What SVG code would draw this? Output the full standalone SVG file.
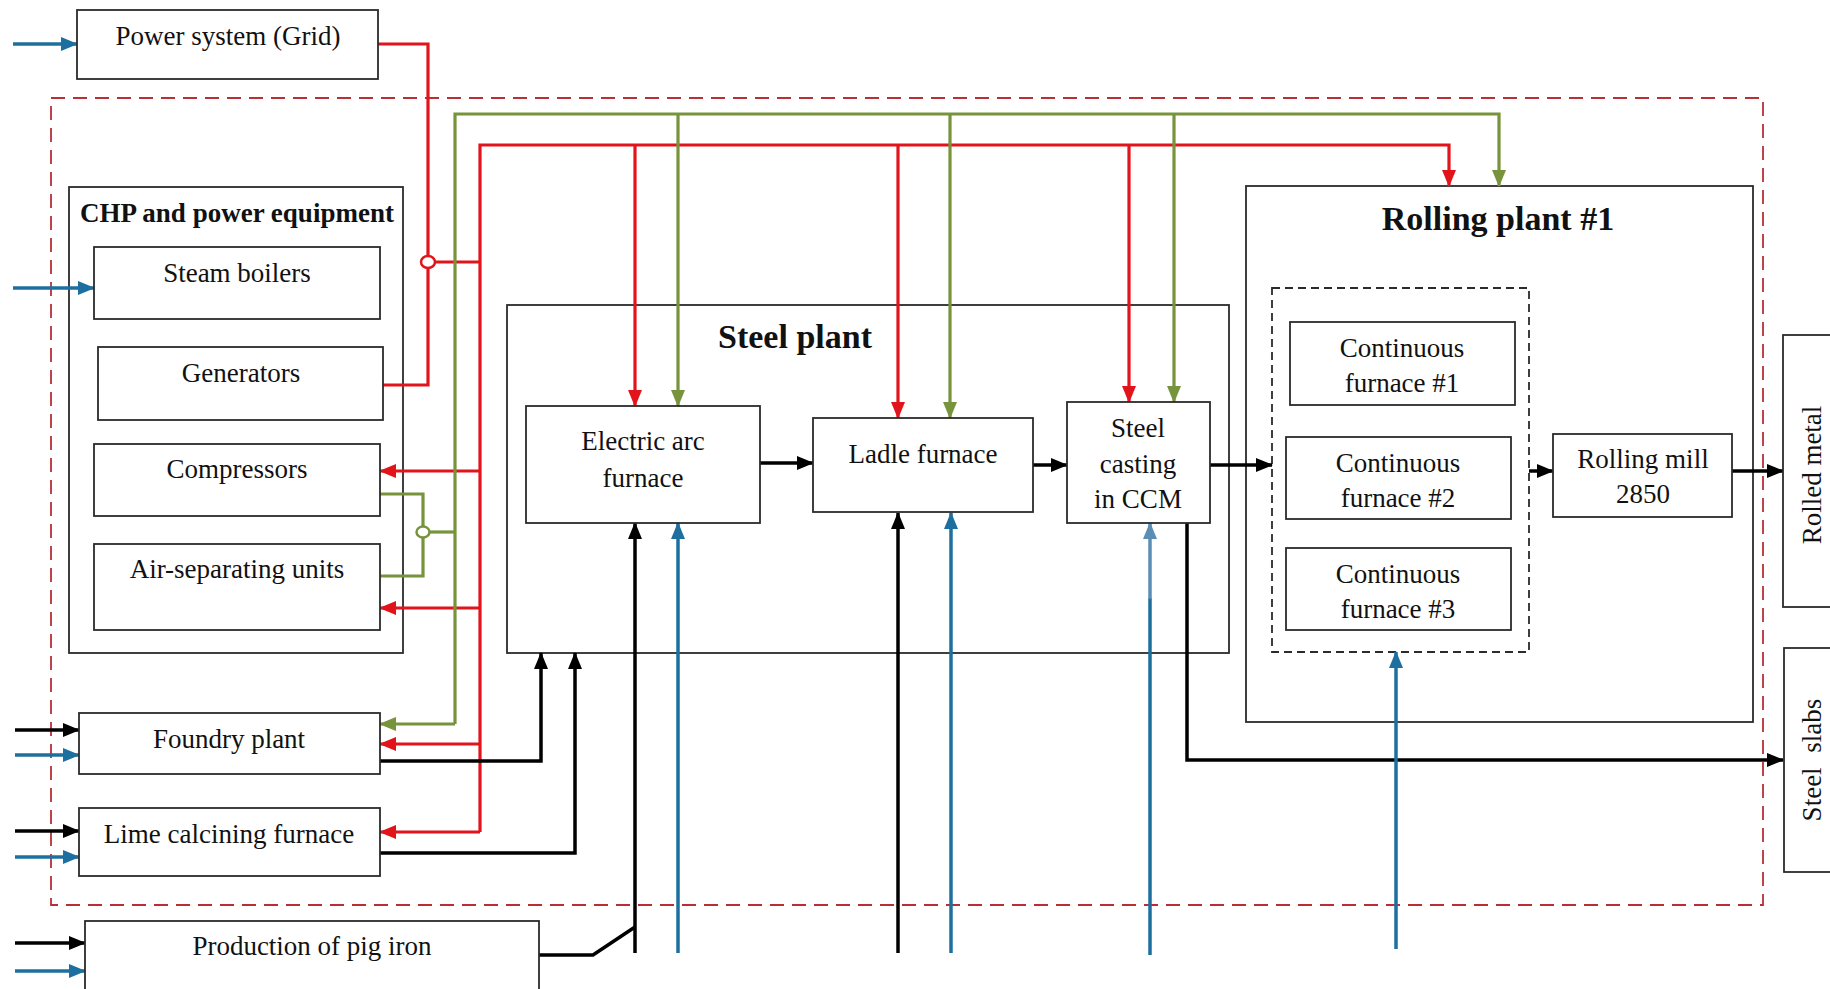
<svg xmlns="http://www.w3.org/2000/svg" width="1830" height="989" viewBox="0 0 1830 989">
<style>
  .box{fill:#fff;stroke:#2b2b2b;stroke-width:1.8}
  .cont{fill:none;stroke:#2b2b2b;stroke-width:1.8}
  .t{font-family:"Liberation Serif","Times New Roman",serif;font-size:27px;fill:#111;text-anchor:middle}
  .tb{font-family:"Liberation Serif","Times New Roman",serif;font-weight:bold;fill:#111;text-anchor:middle}
  .r{fill:none;stroke:#e2141b;stroke-width:3.2}
  .g{fill:none;stroke:#77933c;stroke-width:3.2}
  .b{fill:none;stroke:#1d6f9f;stroke-width:3.5}
  .k{fill:none;stroke:#000;stroke-width:3.5}
</style>
<defs>
  <marker id="aR" markerUnits="userSpaceOnUse" markerWidth="17" markerHeight="14" refX="16" refY="7" orient="auto"><path d="M0,0 L17,7 L0,14 z" fill="#e2141b"/></marker>
  <marker id="aG" markerUnits="userSpaceOnUse" markerWidth="17" markerHeight="14" refX="16" refY="7" orient="auto"><path d="M0,0 L17,7 L0,14 z" fill="#77933c"/></marker>
  <marker id="aB" markerUnits="userSpaceOnUse" markerWidth="17" markerHeight="14" refX="16" refY="7" orient="auto"><path d="M0,0 L17,7 L0,14 z" fill="#1d6f9f"/></marker>
  <marker id="aBl" markerUnits="userSpaceOnUse" markerWidth="17" markerHeight="14" refX="16" refY="7" orient="auto"><path d="M0,0 L17,7 L0,14 z" fill="#5b8db5"/></marker>
  <marker id="aK" markerUnits="userSpaceOnUse" markerWidth="17" markerHeight="14" refX="16" refY="7" orient="auto"><path d="M0,0 L17,7 L0,14 z" fill="#000"/></marker>
</defs>

<!-- outer dashed boundary -->
<rect id="boundary" x="51" y="98" width="1712" height="807" fill="none" stroke="#b83035" stroke-width="1.8" stroke-dasharray="14,8"/>

<!-- containers -->
<g id="chp">
  <rect class="cont" x="69" y="187" width="334" height="466"/>
  <text class="tb" x="237" y="222" font-size="27">CHP and power equipment</text>
</g>
<g id="steel-plant">
  <rect class="cont" x="507" y="305" width="722" height="348"/>
  <text class="tb" x="795" y="348" font-size="34">Steel plant</text>
</g>
<g id="rolling-plant">
  <rect class="cont" x="1246" y="186" width="507" height="536"/>
  <text class="tb" x="1498" y="230" font-size="34">Rolling plant #1</text>
</g>
<g id="furnace-group">
  <rect x="1272" y="288" width="257" height="364" fill="none" stroke="#2b2b2b" stroke-width="1.8" stroke-dasharray="8,5"/>
</g>

<!-- connectors -->
<g id="connectors">
  <path class="b" d="M13,44 H77" marker-end="url(#aB)"/>
  <path class="b" d="M13,288 H94" marker-end="url(#aB)"/>
  <path class="k" d="M15,730 H79" marker-end="url(#aK)"/>
  <path class="b" d="M15,755 H79" marker-end="url(#aB)"/>
  <path class="k" d="M15,831 H79" marker-end="url(#aK)"/>
  <path class="b" d="M15,857 H79" marker-end="url(#aB)"/>
  <path class="k" d="M15,943 H85" marker-end="url(#aK)"/>
  <path class="b" d="M15,971 H85" marker-end="url(#aB)"/>

  <path class="r" d="M378,44 H428 V255"/>
  <path class="r" d="M428,269 V385 H383"/>
  <ellipse cx="428" cy="262" rx="7" ry="6" fill="#fff" stroke="#e2141b" stroke-width="2.5"/>
  <path class="r" d="M435,262 H480"/>

  <path class="r" d="M480,832 V145 H1449 V186" marker-end="url(#aR)"/>
  <path class="r" d="M480,471 H380" marker-end="url(#aR)"/>
  <path class="r" d="M480,608 H380" marker-end="url(#aR)"/>
  <path class="r" d="M480,744 H380" marker-end="url(#aR)"/>
  <path class="r" d="M480,832 H380" marker-end="url(#aR)"/>
  <path class="r" d="M635,145 V406" marker-end="url(#aR)"/>
  <path class="r" d="M898,145 V418" marker-end="url(#aR)"/>
  <path class="r" d="M1129,145 V402" marker-end="url(#aR)"/>

  <path class="g" d="M455,724 V114 H1499 V186" marker-end="url(#aG)"/>
  <path class="g" d="M455,724 H380" marker-end="url(#aG)"/>
  <path class="g" d="M678,114 V406" marker-end="url(#aG)"/>
  <path class="g" d="M950,114 V418" marker-end="url(#aG)"/>
  <path class="g" d="M1174,114 V402" marker-end="url(#aG)"/>
  <path class="g" d="M380,494 H423 V526"/>
  <path class="g" d="M423,538 V576 H380"/>
  <ellipse cx="423" cy="532" rx="6.5" ry="5.5" fill="#fff" stroke="#77933c" stroke-width="2.5"/>
  <path class="g" d="M430,532 H455"/>

  <path class="k" d="M380,761 H541 V653" marker-end="url(#aK)"/>
  <path class="k" d="M380,853 H575 V653" marker-end="url(#aK)"/>
  <path class="k" d="M539,955 H593 L635,927"/>
  <path class="k" d="M635,953 V523" marker-end="url(#aK)"/>
  <path class="b" d="M678,953 V523" marker-end="url(#aB)"/>
  <path class="k" d="M898,953 V513" marker-end="url(#aK)"/>
  <path class="b" d="M951,953 V513" marker-end="url(#aB)"/>
  <path class="b" d="M1150,955 V598"/>
  <path d="M1150,599 V523" fill="none" stroke="#5b8db5" stroke-width="3.5" marker-end="url(#aBl)"/>

  <path class="k" d="M760,463 H813" marker-end="url(#aK)"/>
  <path class="k" d="M1033,465 H1067" marker-end="url(#aK)"/>
  <path class="k" d="M1210,465 H1272" marker-end="url(#aK)"/>
  <path class="k" d="M1529,471 H1553" marker-end="url(#aK)"/>
  <path class="k" d="M1732,471 H1783" marker-end="url(#aK)"/>
  <path class="k" d="M1187,523 V760 H1783" marker-end="url(#aK)"/>
  <path class="b" d="M1396,949 V652" marker-end="url(#aB)"/>
</g>

<!-- nodes -->
<g id="power-system">
  <rect class="box" x="77" y="10" width="301" height="69"/>
  <text class="t" x="228" y="45">Power system (Grid)</text>
</g>
<g id="steam-boilers">
  <rect class="box" x="94" y="247" width="286" height="72"/>
  <text class="t" x="237" y="282">Steam boilers</text>
</g>
<g id="generators">
  <rect class="box" x="98" y="347" width="285" height="73"/>
  <text class="t" x="241" y="382">Generators</text>
</g>
<g id="compressors">
  <rect class="box" x="94" y="444" width="286" height="72"/>
  <text class="t" x="237" y="478">Compressors</text>
</g>
<g id="air-separating-units">
  <rect class="box" x="94" y="544" width="286" height="86"/>
  <text class="t" x="237" y="578">Air-separating units</text>
</g>
<g id="foundry-plant">
  <rect class="box" x="79" y="713" width="301" height="61"/>
  <text class="t" x="229" y="748">Foundry plant</text>
</g>
<g id="lime-calcining-furnace">
  <rect class="box" x="79" y="808" width="301" height="68"/>
  <text class="t" x="229" y="843">Lime calcining furnace</text>
</g>
<g id="pig-iron">
  <rect class="box" x="85" y="921" width="454" height="70"/>
  <text class="t" x="312" y="955">Production of pig iron</text>
</g>
<g id="electric-arc-furnace">
  <rect class="box" x="526" y="406" width="234" height="117"/>
  <text class="t" x="643" y="450">Electric arc</text>
  <text class="t" x="643" y="487">furnace</text>
</g>
<g id="ladle-furnace">
  <rect class="box" x="813" y="418" width="220" height="94"/>
  <text class="t" x="923" y="463">Ladle furnace</text>
</g>
<g id="steel-casting">
  <rect class="box" x="1067" y="402" width="143" height="121"/>
  <text class="t" x="1138" y="437">Steel</text>
  <text class="t" x="1138" y="473">casting</text>
  <text class="t" x="1138" y="508">in CCM</text>
</g>
<g id="continuous-furnace-1">
  <rect class="box" x="1290" y="322" width="225" height="83"/>
  <text class="t" x="1402" y="357">Continuous</text>
  <text class="t" x="1402" y="392">furnace #1</text>
</g>
<g id="continuous-furnace-2">
  <rect class="box" x="1286" y="437" width="225" height="82"/>
  <text class="t" x="1398" y="472">Continuous</text>
  <text class="t" x="1398" y="507">furnace #2</text>
</g>
<g id="continuous-furnace-3">
  <rect class="box" x="1286" y="548" width="225" height="82"/>
  <text class="t" x="1398" y="583">Continuous</text>
  <text class="t" x="1398" y="618">furnace #3</text>
</g>
<g id="rolling-mill">
  <rect class="box" x="1553" y="434" width="179" height="83"/>
  <text class="t" x="1643" y="468">Rolling mill</text>
  <text class="t" x="1643" y="503">2850</text>
</g>
<g id="rolled-metal">
  <rect class="box" x="1783" y="335" width="60" height="272"/>
  <text class="t" font-size="24" transform="translate(1821,475) rotate(-90)">Rolled metal</text>
</g>
<g id="steel-slabs">
  <rect class="box" x="1784" y="648" width="60" height="224"/>
  <text class="t" font-size="24" word-spacing="8" transform="translate(1821,760) rotate(-90)">Steel slabs</text>
</g>
</svg>
